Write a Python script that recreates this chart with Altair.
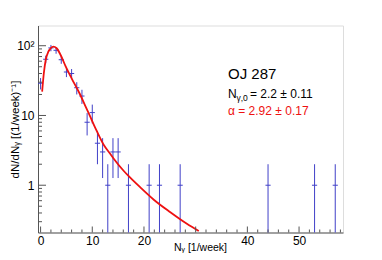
import altair as alt
import pandas as pd

# ---- data ----
bins = [0, 1, 2, 3, 4, 5, 6, 7, 8, 9, 10, 11, 12, 13, 14, 15, 17, 21, 23, 27, 44, 53, 57]
counts = [29, 64, 93, 86, 63, 42, 40, 25, 19, 8, 11, 4, 3, 1, 3, 3, 1, 1, 1, 1, 1, 1, 1]

curve_x = [0.3, 0.64, 1.0, 1.5, 1.8, 2.45, 3.1, 3.9, 4.83, 6.1, 7.5, 8.6, 9.5, 10.6,
           12.2, 13.5, 14.15, 16.1, 17.05, 19.3, 21.9, 25.1, 28.3, 30.6]
curve_y = [22, 41, 63, 82, 89, 97, 92, 73, 51, 33, 21, 14, 10, 6.6,
           3.8, 2.8, 2.4, 1.6, 1.35, 0.93, 0.62, 0.41, 0.28, 0.22]

y_major = [1, 10, 100]
y_minor = [0.3, 0.4, 0.5, 0.6, 0.7, 0.8, 0.9, 2, 3, 4, 5, 6, 7, 8, 9,
           20, 30, 40, 50, 60, 70, 80, 90]
x_major = [0, 10, 20, 30, 40, 50]
x_labels = [0, 10, 20, 40, 50]   # the "30" label is hidden under the axis title
x_minor = [2, 4, 6, 8, 12, 14, 16, 18, 22, 24, 26, 28, 32, 34, 36, 38,
           42, 44, 46, 48, 52, 54, 56, 58]

W, H = 305, 207
FONT = "Liberation Sans"
BLUE = "#4040c8"
RED = "#ee1111"
AX = "#555555"

pts = pd.DataFrame({"n": bins, "v": counts})
curve = pd.DataFrame({"x": curve_x, "y": curve_y})

xscale = alt.Scale(domain=[-0.5, 58.5], nice=False, zero=False)
yscale = alt.Scale(type="log", domain=[0.21, 195], nice=False)

xaxis = alt.Axis(values=x_labels, ticks=False, grid=False, domainColor=AX,
                 labelFont=FONT, labelFontSize=12, labelColor="black", labelPadding=3,
                 title="Nᵧ [1/week]", titleFont=FONT, titleFontSize=10.5,
                 titleFontWeight="normal", titleColor="black",
                 titleX=162, titleY=18, titleBaseline="alphabetic")
yaxis = alt.Axis(values=y_major, ticks=False, grid=False, domainColor=AX,
                 labelExpr="datum.value >= 100 ? '10²' : format(datum.value, 'd')",
                 labelFont=FONT, labelFontSize=12, labelColor="black", labelPadding=4,
                 title="dN/dNᵧ  [(1/week)⁻¹]", titleFont=FONT, titleFontSize=11.5,
                 titleFontWeight="normal", titleColor="black",
                 titleX=-23, titleY=H / 2, titleAngle=-90, titleBaseline="middle")

X = lambda f: alt.X(f, scale=xscale, axis=xaxis)
Y = lambda f: alt.Y(f, scale=yscale, axis=yaxis)

base = alt.Chart(pts).transform_calculate(
    lo="max(datum.v - sqrt(datum.v), 0.01)",
    hi="datum.v + sqrt(datum.v)",
    xl="datum.n - 0.5",
    xr="datum.n + 0.5",
)

vbars = base.mark_rule(color=BLUE, strokeWidth=1, clip=True).encode(
    x=X("n:Q"), y=Y("lo:Q"), y2="hi:Q",
)
hbars = base.mark_rule(color=BLUE, strokeWidth=1, clip=True).encode(
    x=X("xl:Q"), x2="xr:Q", y=Y("v:Q"),
)

line = alt.Chart(curve).mark_line(color=RED, strokeWidth=1.8, interpolate="monotone",
                                  clip=True).encode(x=X("x:Q"), y=Y("y:Q"))

def yticks(vals, length):
    return alt.Chart(pd.DataFrame({"t": vals})).mark_rule(color=AX, strokeWidth=1).encode(
        y=Y("t:Q"), x=alt.value(0), x2=alt.value(length))

def xticks(vals, length):
    return alt.Chart(pd.DataFrame({"t": vals})).mark_rule(color=AX, strokeWidth=1).encode(
        x=X("t:Q"), y=alt.value(H), y2=alt.value(H - length))

def label(txt, x, y, size, color="black"):
    return alt.Chart(pd.DataFrame({"t": [txt]})).mark_text(
        align="left", baseline="alphabetic", font=FONT, fontSize=size, color=color
    ).encode(x=alt.value(x), y=alt.value(y), text="t:N")

texts = [
    label("OJ 287", 190, 53, 15),
    label("N", 190, 72, 12),
    label("γ,0", 198.5, 75, 8.5),
    label("= 2.2 ± 0.11", 212, 72, 12),
    label("α = 2.92 ± 0.17", 190, 89, 12, RED),
]

chart = alt.layer(
    vbars, hbars, line,
    yticks(y_major, 8), yticks(y_minor, 4),
    xticks(x_major, 6), xticks(x_minor, 3),
    *texts,
).properties(
    width=W, height=H,
    padding={"left": 30, "top": 17.5, "right": 20, "bottom": 27},
    autosize="none",
).configure_view(stroke=AX, strokeWidth=1).configure(background="white")

chart.save("out.html", embed_options={"renderer": "svg", "actions": False})
